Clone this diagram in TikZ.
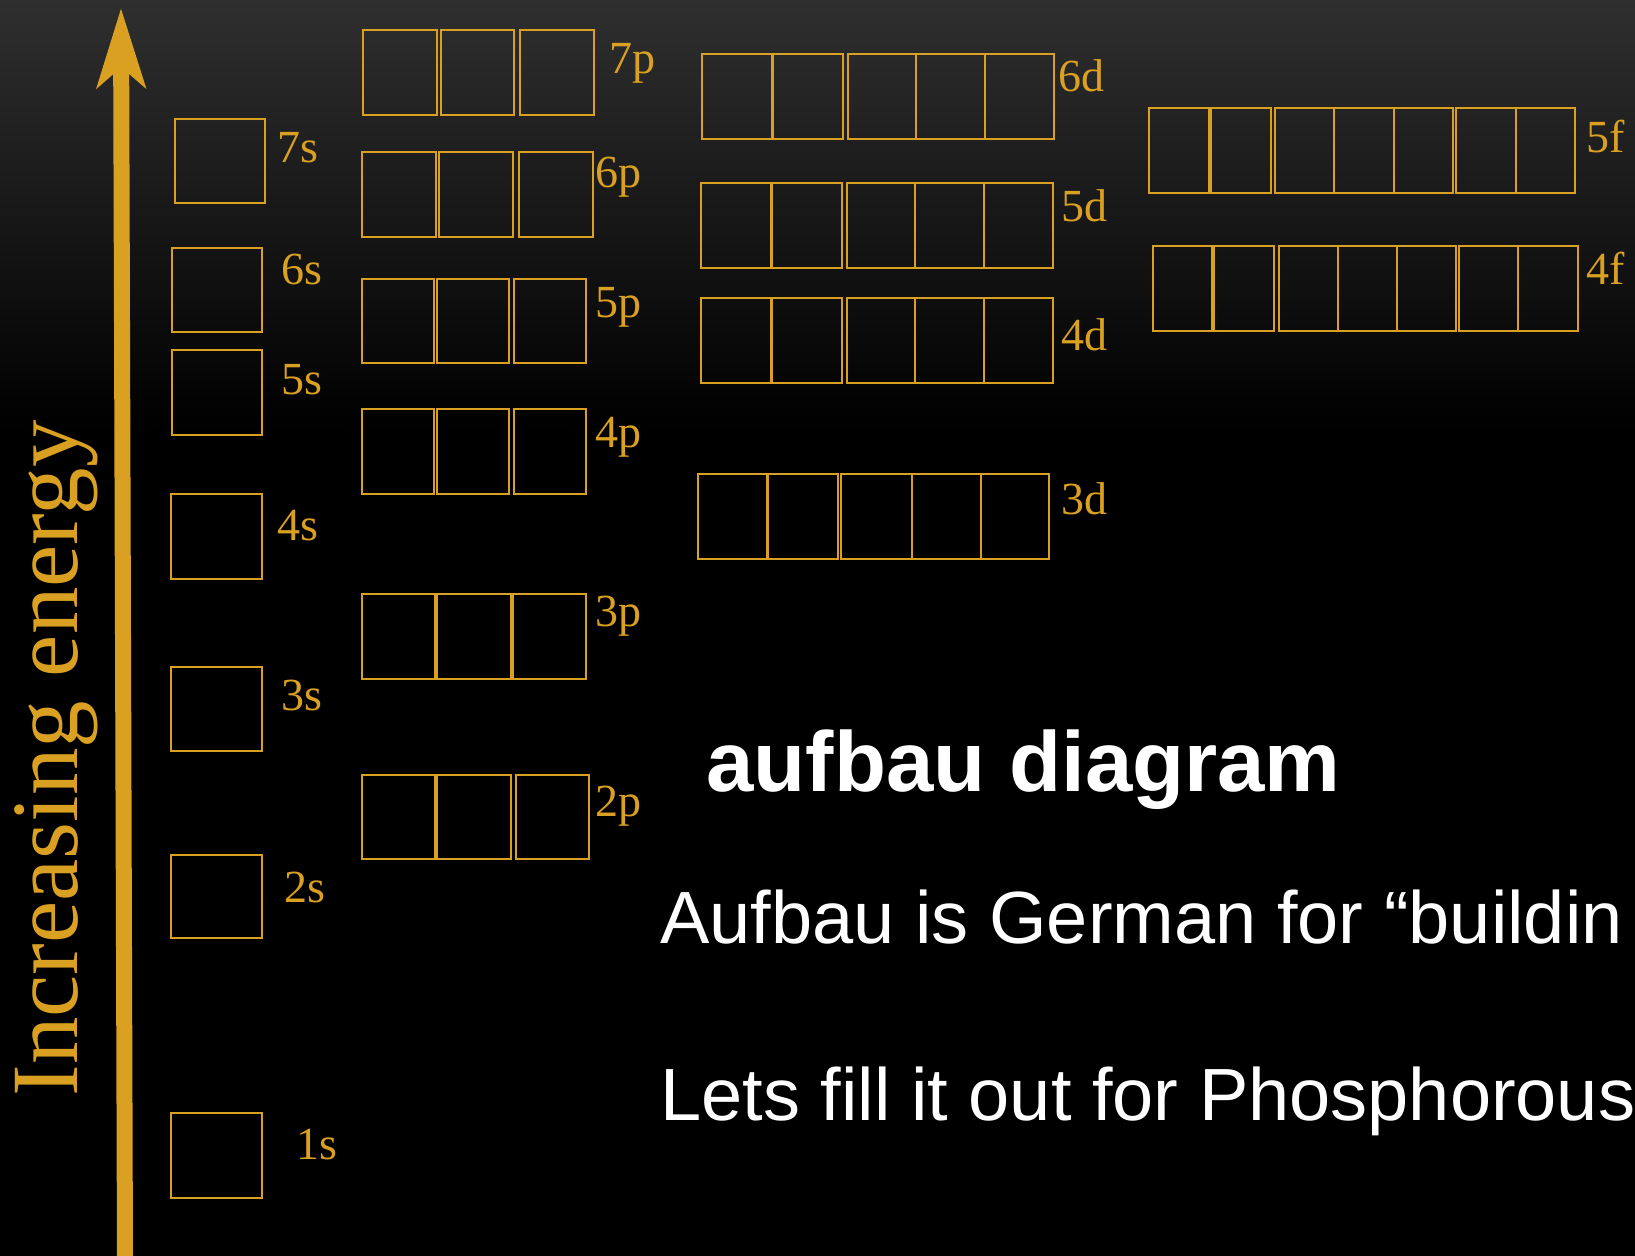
\documentclass[tikz,border=0pt]{standalone}
\usepackage{fontspec}
\setmainfont{Liberation Serif}
\newfontfamily\arialfont{Liberation Sans}
\usetikzlibrary{arrows.meta}
\definecolor{gold}{RGB}{218,160,33}
\definecolor{bgtop}{RGB}{47,47,47}
\tikzset{
  orb/.style={draw=gold, line width=1.4pt, inner sep=0pt, outer sep=0pt},
  olabel/.style={text=gold, anchor=base west, inner sep=0pt, font=\fontsize{23pt}{23pt}\selectfont},
  whitetext/.style={text=white, anchor=base west, inner sep=0pt, font=\arialfont\fontsize{37pt}{37pt}\selectfont},
  titletext/.style={text=white, anchor=base west, inner sep=0pt, font=\arialfont\bfseries\fontsize{42.6pt}{42.6pt}\selectfont},
  axislabel/.style={text=gold, anchor=base west, inner sep=0pt, rotate=90, font=\fontsize{47.5pt}{47.5pt}\selectfont},
  axis/.style={draw=gold, line width=8pt, -{Stealth[length=39.5pt, width=24pt, inset=10pt]}},
}
\newcommand\orbrow[4]{%
  \foreach \a/\b [count=\i] in {#4} {
    \node[orb, minimum width={(\b-\a)*0.5pt}, minimum height={(#3-#2)*0.5pt}]
      (#1-\i) at ({(\a+\b)/2},{(#2+#3)/2}) {};
  }}
\begin{document}
\begin{tikzpicture}[x=0.5pt, y=-0.5pt]
  \useasboundingbox (0,0) rectangle (1635,1256);
  \clip (0,0) rectangle (1635,1256);
  % background
  \fill[black] (0,0) rectangle (1635,1256);
  \shade[top color=bgtop, bottom color=black] (0,0) rectangle (1635,430);

  % energy axis
  \coordinate (abot) at (125,1260);
  \coordinate (atip) at (121,8);
  \draw[axis] (abot) -- (atip);
  \node[axislabel] (elabel) at (77,1097) {Increasing energy};

  % s orbitals
  \orbrow{7s}{119}{203}{175/265}
  \orbrow{6s}{248}{332}{172/262}
  \orbrow{5s}{350}{435}{172/262}
  \orbrow{4s}{494}{579}{171/262}
  \orbrow{3s}{667}{751}{171/262}
  \orbrow{2s}{855}{938}{171/262}
  \orbrow{1s}{1113}{1198}{171/262}
  \node[olabel] (l7s) at (277,163) {7s};
  \node[olabel] (l6s) at (281,285) {6s};
  \node[olabel] (l5s) at (281,395) {5s};
  \node[olabel] (l4s) at (277,541) {4s};
  \node[olabel] (l3s) at (281,711) {3s};
  \node[olabel] (l2s) at (284,903) {2s};
  \node[olabel] (l1s) at (296,1159) {1s};

  % p orbitals
  \orbrow{7p}{30}{115}{363/437,441/514,520/594}
  \orbrow{6p}{152}{237}{362/436,439/513,519/593}
  \orbrow{5p}{279}{363}{362/434,437/509,514/586}
  \orbrow{4p}{409}{494}{362/434,437/509,514/586}
  \orbrow{3p}{594}{679}{362/435,437/511,513/586}
  \orbrow{2p}{775}{859}{362/435,437/511,516/589}
  \node[olabel] (l7p) at (609,74) {7p};
  \node[olabel] (l6p) at (595,188) {6p};
  \node[olabel] (l5p) at (595,318) {5p};
  \node[olabel] (l4p) at (595,448) {4p};
  \node[olabel] (l3p) at (595,627) {3p};
  \node[olabel] (l2p) at (595,817) {2p};

  % d orbitals
  \orbrow{6d}{54}{139}{702/772,773/843,848/916,916/985,985/1054}
  \orbrow{5d}{183}{268}{701/771,772/842,847/915,915/984,984/1053}
  \orbrow{4d}{298}{383}{701/771,772/842,847/915,915/984,984/1053}
  \orbrow{3d}{474}{559}{698/767,768/838,841/912,912/981,981/1049}
  \node[olabel] (l6d) at (1058,92) {6d};
  \node[olabel] (l5d) at (1061,222) {5d};
  \node[olabel] (l4d) at (1061,351) {4d};
  \node[olabel] (l3d) at (1061,515) {3d};

  % f orbitals
  \orbrow{5f}{108}{193}{1149/1209,1211/1271,1275/1334,1334/1394,1394/1453,1456/1516,1516/1575}
  \orbrow{4f}{246}{331}{1153/1212,1214/1274,1279/1338,1338/1397,1397/1456,1459/1518,1518/1578}
  \node[olabel] (l5f) at (1586,153) {5f};
  \node[olabel] (l4f) at (1586,285) {4f};

  % texts
  \node[titletext] (title) at (706,792) {aufbau diagram};
  \node[whitetext] (line1) at (660,943) {Aufbau is German for “buildin};
  \node[whitetext] (line2) at (660,1120) {Lets fill it out for Phosphorous};
\end{tikzpicture}
\end{document}
